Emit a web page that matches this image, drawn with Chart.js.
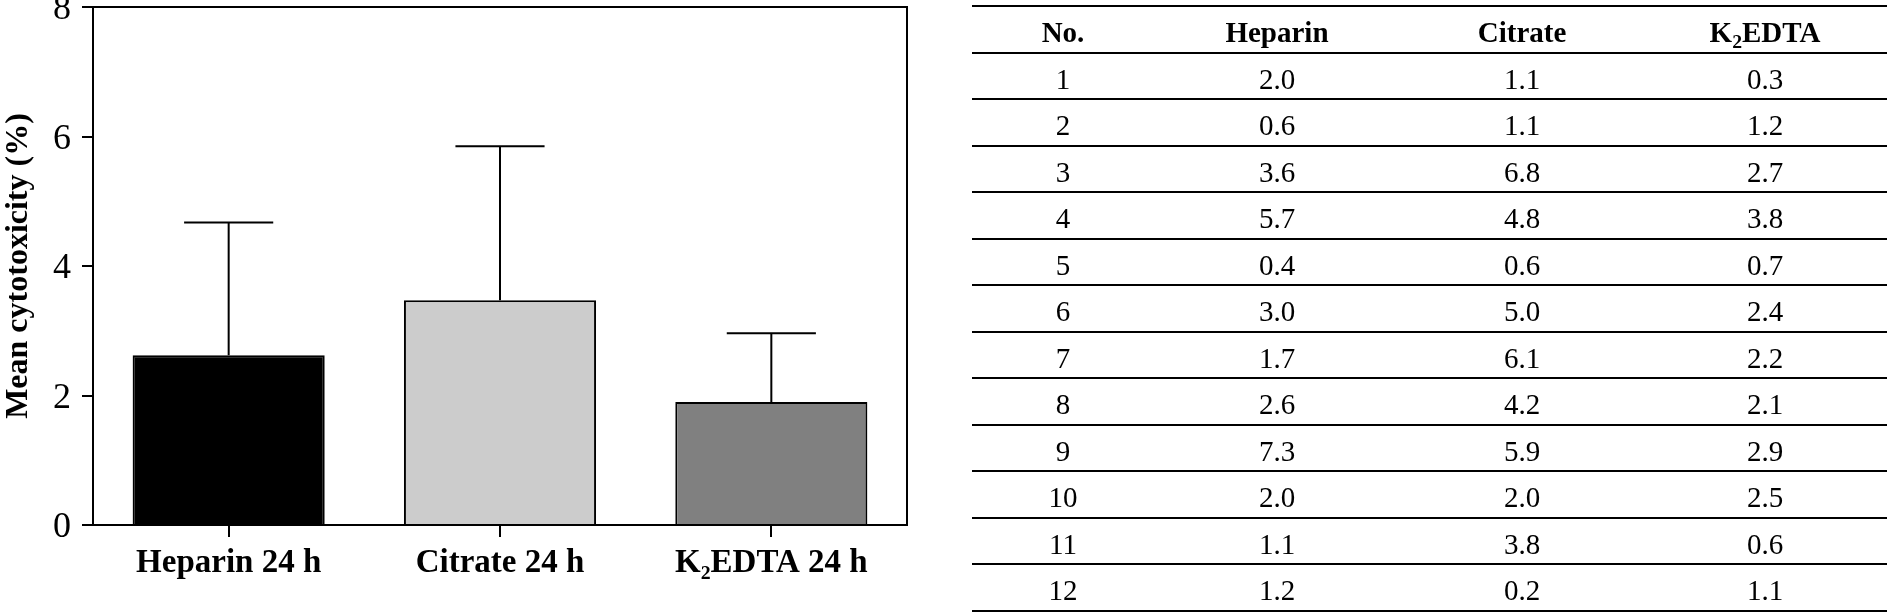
<!DOCTYPE html>
<html>
<head>
<meta charset="utf-8">
<script src="https://cdn.jsdelivr.net/npm/chart.js@4"></script>
<style>
html,body{margin:0;padding:0;background:#fff;width:1887px;height:612px;overflow:hidden;}
#chartBox{position:absolute;left:0;top:0;width:960px;height:612px;}
#tbl{position:absolute;left:972px;top:0;width:915px;height:612px;font-family:"Liberation Serif","Times New Roman",serif;font-size:29px;color:#000;}
.line{position:absolute;left:0;width:915px;height:2px;background:#000;}
.cell{position:absolute;text-align:center;height:46px;line-height:46px;white-space:nowrap;}
.hdr{font-weight:bold;}
.hdr sub{font-size:0.68em;vertical-align:-0.28em;line-height:0;}
</style>
</head>
<body>
<div id="chartBox"><canvas id="c" width="960" height="612"></canvas></div>
<div id="tbl"></div>
<script>
// ---- chart data ----
const categories = ['Heparin 24 h', 'Citrate 24 h', 'K\u2082EDTA 24 h'];
const meanValues = [2.62, 3.47, 1.90];
const sdValues = [2.05, 2.38, 1.06];
const yTickValues = [0, 2, 4, 6, 8];

// ---- table data ----
const tableHeaders = ['No.', 'Heparin', 'Citrate', 'K<sub>2</sub>EDTA'];
const sampleNo = [1, 2, 3, 4, 5, 6, 7, 8, 9, 10, 11, 12];
const heparinVals = [2.0, 0.6, 3.6, 5.7, 0.4, 3.0, 1.7, 2.6, 7.3, 2.0, 1.1, 1.2];
const citrateVals = [1.1, 1.1, 6.8, 4.8, 0.6, 5.0, 6.1, 4.2, 5.9, 2.0, 3.8, 0.2];
const k2edtaVals = [0.3, 1.2, 2.7, 3.8, 0.7, 2.4, 2.2, 2.1, 2.9, 2.5, 0.6, 1.1];

// ---- styles ----
const barColors = ['#000000', '#cccccc', '#808080'];

const errorBarPlugin = {
  id: 'errorBars',
  afterDatasetsDraw(chart) {
    const ctx = chart.ctx, meta = chart.getDatasetMeta(0), ys = chart.scales.y;
    ctx.save();
    ctx.strokeStyle = '#000';
    ctx.lineWidth = 2;
    meta.data.forEach((bar, i) => {
      const top = ys.getPixelForValue(meanValues[i] + sdValues[i]);
      const half = bar.width * 0.232;
      ctx.beginPath();
      ctx.moveTo(bar.x, bar.y);
      ctx.lineTo(bar.x, top);
      ctx.moveTo(bar.x - half, top);
      ctx.lineTo(bar.x + half, top);
      ctx.stroke();
    });
    ctx.restore();
  }
};

const boxPlugin = {
  id: 'boxFrame',
  afterDraw(chart) {
    const ctx = chart.ctx, a = chart.chartArea;
    ctx.save();
    ctx.strokeStyle = '#000';
    ctx.lineWidth = 2;
    ctx.beginPath();
    ctx.moveTo(a.left, a.top);
    ctx.lineTo(a.right, a.top);
    ctx.lineTo(a.right, a.bottom);
    ctx.stroke();
    ctx.restore();
  }
};

new Chart(document.getElementById('c').getContext('2d'), {
  type: 'bar',
  data: {
    labels: categories,
    datasets: [{
      data: meanValues,
      backgroundColor: barColors,
      borderColor: '#000',
      borderWidth: 2,
      barPercentage: 0.708,
      categoryPercentage: 1
    }]
  },
  options: {
    responsive: false,
    animation: false,
    devicePixelRatio: 1,
    layout: { padding: { top: 7, right: 53, left: 0, bottom: 0 } },
    plugins: { legend: { display: false }, tooltip: { enabled: false } },
    scales: {
      x: {
        grid: { display: true, drawOnChartArea: false, offset: false, tickLength: 12, color: '#000', lineWidth: 2 },
        border: { display: true, color: '#000', width: 2 },
        ticks: { color: '#000', font: { family: 'Liberation Serif', size: 33, weight: 'bold' }, padding: 7 },
        afterFit(s) { s.height = 87; s.paddingLeft = 0; s.paddingRight = 0; }
      },
      y: {
        min: 0, max: 8,
        afterBuildTicks(s) { s.ticks = yTickValues.map(v => ({ value: v })); },
        ticks: { color: '#000', font: { family: 'Liberation Serif', size: 36 }, padding: 11, labelOffset: 3 },
        grid: { drawOnChartArea: false, tickLength: 11, color: '#000', lineWidth: 2 },
        border: { color: '#000', width: 2 },
        title: { display: true, text: 'Mean cytotoxicity (%)', color: '#000', font: { family: 'Liberation Serif', size: 32, weight: 'bold' }, padding: 0 },
        afterFit(s) { s.width = 93; s.paddingTop = 0; s.paddingBottom = 0; }
      }
    }
  },
  plugins: [errorBarPlugin, boxPlugin]
});

// ---- table ----
const tbl = document.getElementById('tbl');
const colCenters = [91, 305, 550, 793];
const colW = 220;
const rowTop0 = 5, rowH = 46.5;
const rows = [tableHeaders].concat(sampleNo.map((n, i) => [String(n), heparinVals[i].toFixed(1), citrateVals[i].toFixed(1), k2edtaVals[i].toFixed(1)]));
rows.forEach((r, k) => {
  const top = rowTop0 + k * rowH;
  const ln = document.createElement('div');
  ln.className = 'line';
  ln.style.top = Math.round(top) + 'px';
  tbl.appendChild(ln);
  r.forEach((txt, j) => {
    const c = document.createElement('div');
    c.className = 'cell' + (k === 0 ? ' hdr' : '');
    c.style.left = (colCenters[j] - colW / 2) + 'px';
    c.style.width = colW + 'px';
    c.style.top = (top + 4) + 'px';
    c.innerHTML = txt;
    tbl.appendChild(c);
  });
});
const last = document.createElement('div');
last.className = 'line';
last.style.top = Math.round(rowTop0 + rows.length * rowH) + 'px';
tbl.appendChild(last);
</script>
</body>
</html>
